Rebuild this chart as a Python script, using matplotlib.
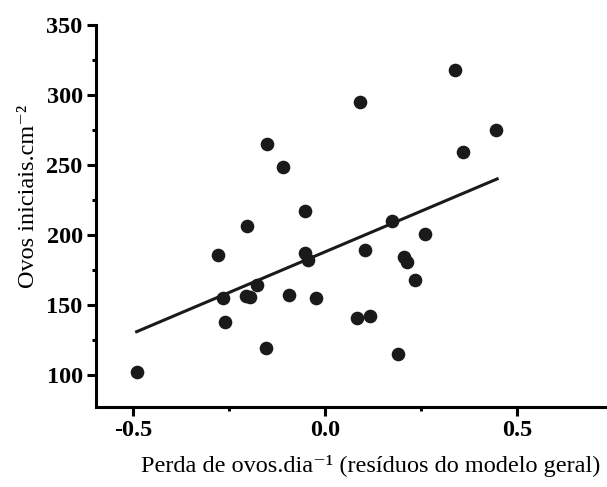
import numpy as np
import matplotlib
matplotlib.use("Agg")
import matplotlib.pyplot as plt
from matplotlib.ticker import MultipleLocator

plt.rcParams["font.family"] = ["Liberation Serif", "DejaVu Serif"]

# residuals (x) and initial eggs (y)
residuos = [-0.490, -0.277, -0.203, -0.052, -0.266, -0.260, -0.206, -0.195,
            -0.176, -0.154, -0.093, -0.052, -0.044, -0.023, 0.084, 0.119,
            0.105, 0.176, 0.190, 0.207, 0.214, 0.235, 0.260, -0.151,
            -0.109, 0.093, 0.339, 0.445, 0.359]
ovos = [102, 185.5, 206.6, 217.4, 155.2, 138.0, 156.2, 155.5,
        164.1, 119.0, 156.9, 187.4, 182.1, 155.2, 140.9, 142.1,
        189.0, 210.2, 115.0, 184.1, 180.5, 167.9, 200.7, 264.8,
        248.8, 294.8, 317.4, 274.8, 259.1]

# fitted line
fit_x = [-0.49, 0.449]
slope = 116.2
intercept = 187.8

fig = plt.figure(figsize=(6.07, 4.87), dpi=100)
ax = fig.add_axes([0.158, 0.164, 0.842, 0.785])

ax.plot(residuos, ovos, 'o', color='#1a1a1a', markersize=8.8, zorder=3)
fx = np.array(fit_x)
ax.plot(fx, intercept + slope*fx, '-', color='#1a1a1a', linewidth=2.2)

ax.set_xlim(-0.596, 0.735)
ax.set_ylim(77, 350)
ax.xaxis.set_minor_locator(MultipleLocator(0.25))
ax.yaxis.set_major_locator(MultipleLocator(50))
ax.yaxis.set_minor_locator(MultipleLocator(25))
ax.set_xticks([-0.5, 0.0, 0.5])
ax.set_xticklabels(['-0.5', '0.0', '0.5'])

for s in ['top', 'right']:
    ax.spines[s].set_visible(False)
for s in ['left', 'bottom']:
    ax.spines[s].set_linewidth(2.2)

ax.tick_params(which='major', direction='out', length=6.5, width=2.2,
               labelsize=17.5, pad=3)
ax.tick_params(which='minor', direction='out', length=3, width=2.2)
for lab in ax.get_xticklabels() + ax.get_yticklabels():
    lab.set_fontweight('bold')

ax.set_ylabel('Ovos iniciais.cm⁻²', fontsize=17.5)
ax.set_xlabel('Perda de ovos.dia⁻¹ (resíduos do modelo geral)', fontsize=17.5)
ax.yaxis.set_label_coords(-0.112, 0.55)
ax.xaxis.set_label_coords(0.538, -0.125)

plt.savefig('out.png', dpi=100)
